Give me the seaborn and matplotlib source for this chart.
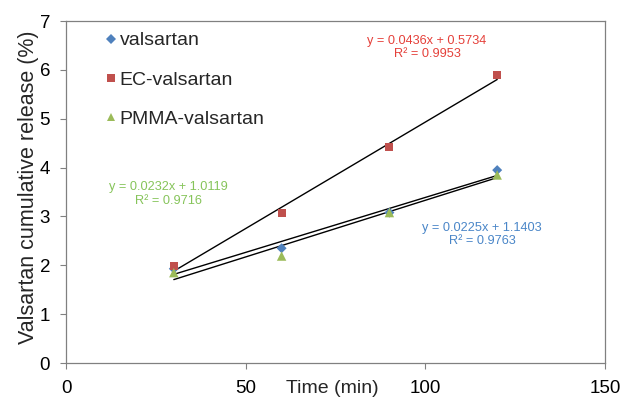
import matplotlib
matplotlib.use("Agg")
import matplotlib.pyplot as plt
import seaborn as sns
import numpy as np
import pandas as pd

# Release data (time in minutes, cumulative release in %)
time_min = [30, 60, 90, 120]
valsartan = [1.93, 2.35, 3.08, 3.95]
ec_valsartan = [1.99, 3.07, 4.42, 5.90]
pmma_valsartan = [1.85, 2.19, 3.08, 3.85]

series_names = ["valsartan", "EC-valsartan", "PMMA-valsartan"]
series_values = [valsartan, ec_valsartan, pmma_valsartan]

# Linear trend lines (slope, intercept, R²)
slopes = [0.0225, 0.0436, 0.0232]
intercepts = [1.1403, 0.5734, 1.0119]
r_squared = [0.9763, 0.9953, 0.9716]

x_ticks = [0, 50, 100, 150]
y_ticks = [0, 1, 2, 3, 4, 5, 6, 7]

marker_colors = ["#4F81BD", "#C0504D", "#9BBB59"]
text_colors = ["#4A86C8", "#E5403A", "#86C45A"]
markers = ["D", "s", "^"]
marker_sizes = [26, 34, 46]

sns.set_theme(style="ticks")
plt.rcParams["font.family"] = ["Liberation Sans", "DejaVu Sans"]

fig = plt.figure(figsize=(6.21, 3.99), dpi=100)
ax = fig.add_axes([0.1063, 0.0902, 0.9742 - 0.1063, 0.947 - 0.0902])

rows = []
for name, vals in zip(series_names, series_values):
    for t, v in zip(time_min, vals):
        rows.append({"time": t, "release": v, "sample": name})
df = pd.DataFrame(rows)

# Trend lines first so the markers sit on top
for m, b in zip(slopes, intercepts):
    xs = np.array([time_min[0], time_min[-1]], dtype=float)
    sns.lineplot(x=xs, y=m * xs + b, ax=ax, color="black", linewidth=1.0,
                 legend=False, zorder=2)

handles = []
for name, col, mk, ms in zip(series_names, marker_colors, markers, marker_sizes):
    sub = df[df["sample"] == name]
    sns.scatterplot(data=sub, x="time", y="release", ax=ax, color=col,
                    marker=mk, s=ms, edgecolor="none", linewidth=0,
                    zorder=3, legend=False)
    handles.append(plt.Line2D([], [], linestyle="none", marker=mk, color=col,
                              markersize=np.sqrt(ms) * 0.95, markeredgewidth=0))

ax.set_xlim(0, 150)
ax.set_ylim(0, 7)
ax.set_xticks(x_ticks)
ax.set_yticks(y_ticks)
ax.tick_params(axis="both", labelsize=13.5, length=4.5, width=0.8,
               color="#808080", labelcolor="black")
ax.tick_params(axis="x", pad=8)
ax.tick_params(axis="y", pad=7)
for sp in ax.spines.values():
    sp.set_visible(True)
    sp.set_color("#808080")
    sp.set_linewidth(0.9)

ax.set_ylabel("Valsartan cumulative release (%)", fontsize=15.5, va="center")
ax.yaxis.set_label_coords(-0.07, 0.515)
ax.set_xlabel("Time (min)", fontsize=14, va="center")
ax.xaxis.set_label_coords(0.494, -0.076)

ax.legend(handles, series_names, loc="upper left", frameon=False,
          fontsize=14, handlelength=0.6, handletextpad=0.15,
          labelspacing=1.12, bbox_to_anchor=(0.04, 1.02))

# Trend-line equations
label_pos = [(482, 234.5), (427, 47.5), (168, 194)]
fig_w, fig_h = 621, 399
for (px, py), m, b, r2, tc in zip(label_pos, slopes, intercepts, r_squared, text_colors):
    txt = f"y = {m:.4f}x + {b:.4f}\nR² = {r2:.4f}"
    fig.text(px / fig_w, 1 - py / fig_h, txt, color=tc, fontsize=9.2,
             ha="center", va="center", linespacing=1.15)

fig.savefig("out.png", dpi=100)
